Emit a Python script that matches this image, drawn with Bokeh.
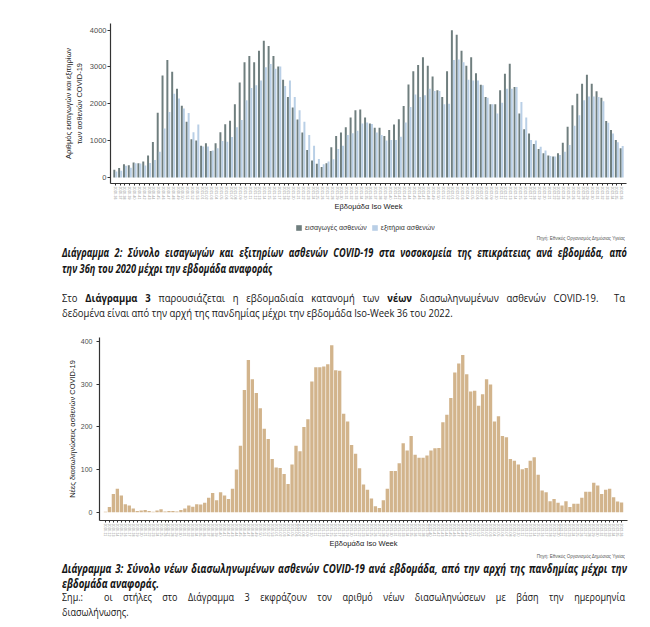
from bokeh.plotting import figure
from bokeh.models import (FactorRange, Range1d, FixedTicker, Legend, LegendItem,
                          Div, ColumnDataSource)
from bokeh.transform import dodge
from bokeh.layouts import column
from bokeh.embed import file_html
from bokeh.resources import INLINE

# ---------------- data ----------------
# Chart 1: weekly admissions / discharges, 2020-36 .. 2022-36
admissions = [207, 255, 360, 330, 405, 385, 430, 595, 960, 1755,
              2770, 3190, 2870, 2405, 1945, 1515, 1040, 1005, 860, 930,
              715, 930, 1225, 1445, 1540, 1990, 2580, 3130, 3300, 3130,
              3440, 3710, 3570, 3300, 3010, 2650, 2185, 1900, 1570, 1220,
              745, 460, 370, 280, 385, 820, 1125, 1220, 1365, 1630,
              1825, 1845, 1630, 1465, 1350, 1350, 1125, 1285, 1440, 1580,
              1940, 2525, 2880, 3055, 3265, 3030, 2740, 2365, 2185, 2885,
              4000, 3875, 3440, 3030, 3265, 2830, 2515, 2185, 1990, 1990,
              2365, 2815, 3085, 2455, 1735, 1310, 1195, 910, 775, 655,
              595, 565, 655, 945, 1375, 1960, 2275, 2545, 2785, 2545,
              2340, 2165, 1530, 1285, 1015, 790]
discharges = [160, 180, 315, 260, 385, 378, 325, 390, 475, 700,
              1330, 1780, 2275, 2140, 1870, 1750, 1230, 1440, 840, 840,
              730, 790, 990, 970, 1100, 1360, 1560, 2095, 2430, 2500,
              2630, 2990, 3080, 2950, 3010, 2480, 2630, 2185, 1825, 1510,
              1150, 860, 500, 360, 430, 495, 770, 860, 1150, 1200,
              1270, 1465, 1490, 1450, 1220, 1150, 1000, 1015, 1015, 1105,
              1490, 1915, 2250, 2185, 2230, 2410, 2350, 2350, 1990, 2000,
              3190, 3200, 3130, 2650, 2630, 2630, 2500, 2165, 1990, 1735,
              2030, 2410, 2410, 2455, 2050, 1630, 1015, 1000, 835, 730,
              585, 565, 610, 700, 880, 1400, 1690, 2095, 2200, 2200,
              2185, 2070, 1485, 1195, 955, 855]
y_ticks_1 = [0, 1000, 2000, 3000, 4000]
series_names = ["εισαγωγές ασθενών", "εξιτήρια ασθενών"]

# Chart 3: weekly new intubations, 2020-11 .. 2022-36
intubations = [1, 12, 43, 55, 39, 19, 16, 9, 3, 4,
               5, 3, 1, 4, 7, 2, 3, 3, 2, 5,
               9, 16, 13, 19, 18, 22, 34, 45, 28, 47,
               39, 31, 55, 100, 156, 287, 357, 312, 280, 244,
               196, 172, 125, 105, 104, 90, 66, 112, 156, 143,
               200, 218, 307, 340, 340, 342, 347, 392, 333, 332,
               231, 213, 158, 137, 103, 65, 53, 32, 14, 10,
               28, 55, 97, 97, 115, 162, 145, 179, 135, 128,
               128, 133, 145, 150, 151, 211, 229, 268, 328, 349,
               369, 324, 283, 285, 250, 277, 312, 300, 213, 225,
               179, 176, 125, 121, 112, 101, 104, 121, 129, 88,
               51, 47, 26, 31, 22, 16, 26, 12, 20, 20,
               34, 48, 48, 69, 63, 43, 53, 55, 35, 25,
               23]
y_ticks_3 = [0, 100, 200, 300, 400]

WEEKS_IN_YEAR = {2020: 53, 2021: 52, 2022: 52}


def iso_week_labels(year, week, n):
    out = []
    for _ in range(n):
        out.append(f"{year}-{week:02d}")
        week += 1
        if week > WEEKS_IN_YEAR[year]:
            year, week = year + 1, 1
    return out


weeks1 = iso_week_labels(2020, 36, len(admissions))
weeks3 = iso_week_labels(2020, 11, len(intubations))

DARK = "#6f7e7e"
LIGHT = "#b9cfe6"
TAN = "#d2b48c"
FONT = "Liberation Sans"
SOURCE_TEXT = "Πηγή: Εθνικός Οργανισμός Δημόσιας Υγείας"


def style_axes(p, tick_font, label_font):
    p.outline_line_color = None
    p.xgrid.visible = False
    p.ygrid.visible = False
    p.background_fill_color = "white"
    p.border_fill_color = "white"
    for ax in (p.xaxis[0], p.yaxis[0]):
        ax.axis_line_color = "#333333"
        ax.axis_line_width = 1.2
        ax.major_tick_line_color = "#333333"
        ax.major_tick_in = 0
        ax.minor_tick_line_color = None
        ax.axis_label_text_font = FONT
        ax.axis_label_text_font_style = "normal"
        ax.axis_label_text_color = "#222222"
        ax.axis_label_text_font_size = label_font
        ax.major_label_text_font = FONT
    p.yaxis.major_tick_out = 3
    p.yaxis.major_label_text_font_size = tick_font
    p.yaxis.major_label_text_color = "#4d4d4d"
    p.xaxis.major_tick_out = 2
    p.xaxis.major_label_orientation = "vertical"
    p.xaxis.major_label_text_font_size = "3.5px"
    p.xaxis.major_label_text_color = "#8a8a8a"
    p.xaxis.major_label_standoff = 1
    p.xaxis.axis_label_standoff = 0


# ---------------- chart 1 ----------------
src1 = ColumnDataSource(dict(week=weeks1, adm=admissions, dis=discharges))
p1 = figure(x_range=FactorRange(*weeks1, range_padding=0.5, range_padding_units="absolute"),
            y_range=Range1d(-165, 4180), width=650, height=214,
            output_backend="svg", toolbar_location=None, frame_align=False,
            min_border_left=110, min_border_right=24, min_border_top=23,
            min_border_bottom=30, margin=(0, 0, 0, 0))
p1.vbar(x=dodge("week", -0.21, range=p1.x_range), top="adm", width=0.41,
        source=src1, fill_color=DARK, line_color=None)
p1.vbar(x=dodge("week", 0.21, range=p1.x_range), top="dis", width=0.41,
        source=src1, fill_color=LIGHT, line_color=None)
style_axes(p1, "7.5px", "7.5px")
p1.yaxis.ticker = FixedTicker(ticks=y_ticks_1)
p1.yaxis.major_label_standoff = 1
p1.yaxis.axis_label = "Αριθμός εισαγωγών και εξιτηρίων\nτων ασθενών COVID-19"
p1.yaxis.axis_label_standoff = 3
p1.xaxis.axis_label = "Εβδομάδα Iso Week"

# legend strip for chart 1: a zero-size key glyph per series, coloured per series
key_src = ColumnDataSource(dict(x=[0.5, 0.5], h=[0, 0], name=series_names, color=[DARK, LIGHT]))
pl = figure(width=650, height=19, x_range=Range1d(0, 1), y_range=Range1d(0, 1),
            x_axis_type=None, y_axis_type=None, output_backend="svg",
            toolbar_location=None, frame_align=False,
            min_border_left=0, min_border_right=0, min_border_top=0, min_border_bottom=0,
            margin=(0, 0, 0, 0))
pl.outline_line_color = None
pl.xgrid.visible = False
pl.ygrid.visible = False
key = pl.vbar(x="x", top="h", width=0, source=key_src, fill_color="color", line_color=None)
leg1 = Legend(items=[LegendItem(label=series_names[0], renderers=[key], index=0),
                     LegendItem(label=series_names[1], renderers=[key], index=1)],
              orientation="horizontal", location=(295, 2),
              border_line_color=None, background_fill_alpha=0,
              label_text_font=FONT, label_text_font_size="7px", label_text_color="#333333",
              glyph_width=7, glyph_height=7, label_standoff=3, spacing=4,
              padding=0, margin=0, label_height=8)
pl.add_layout(leg1, "center")

# ---------------- chart 3 ----------------
src3 = ColumnDataSource(dict(week=weeks3, n=intubations))
p3 = figure(x_range=FactorRange(*weeks3, range_padding=1.0, range_padding_units="absolute"),
            y_range=Range1d(-19.4, 410), width=650, height=223,
            output_backend="svg", toolbar_location=None, frame_align=False,
            min_border_left=99, min_border_right=23, min_border_top=9,
            min_border_bottom=30, margin=(0, 0, 0, 0))
p3.vbar(x="week", top="n", width=0.84, source=src3, fill_color=TAN, line_color=None)
style_axes(p3, "7px", "7.5px")
p3.yaxis.ticker = FixedTicker(ticks=y_ticks_3)
p3.yaxis.major_label_standoff = 4
p3.yaxis.axis_label = "Νέες διασωληνώσεις ασθενών COVID-19"
p3.yaxis.axis_label_standoff = 1
p3.xaxis.axis_label = "Εβδομάδα Iso Week"


# ---------------- text blocks ----------------
def line(html, top, size, weight, style, scale, justify, lh, target=565, left=62):
    box = target / scale
    align = "text-align:justify;text-align-last:justify;" if justify else "text-align:left;"
    return (f'<div style="position:absolute;left:{left}px;top:{top}px;width:{box:.1f}px;'
            f'transform:scaleX({scale});transform-origin:0 0;white-space:nowrap;{align}'
            f"font-family:'Open Sans';font-size:{size}px;font-weight:{weight};font-style:{style};"
            f'line-height:{lh}px;color:#161616;">{html}</div>')


def block(lines, h):
    return Div(text=f'<div style="position:relative;width:650px;height:{h}px;overflow:visible;">{"".join(lines)}</div>',
               width=650, height=h, margin=(0, 0, 0, 0))


def source_div(h, lh):
    return Div(text=(f'<div style="width:625px;height:{h}px;text-align:right;overflow:hidden;'
                     f"font-family:'{FONT}';font-size:4.5px;line-height:{lh}px;color:#555555;\">"
                     f'{SOURCE_TEXT}</div>'),
               width=650, height=h, margin=(0, 0, 0, 0))


cap2 = block([
    line("Διάγραμμα 2: Σύνολο εισαγωγών και εξιτηρίων ασθενών COVID-19 στα νοσοκομεία της επικράτειας ανά εβδομάδα, από",
         0, 11.5, 700, "italic", 0.80, True, 16),
    line("την 36η του 2020 μέχρι την εβδομάδα αναφοράς", 16, 11.5, 700, "italic", 0.80, False, 16),
], 45)
para = block([
    line("Στο <b>Διάγραμμα 3</b> παρουσιάζεται η εβδομαδιαία κατανομή των <b>νέων</b> διασωληνωμένων ασθενών COVID-19.&nbsp; Τα",
         0, 11, 400, "normal", 0.86, True, 15, target=563),
    line("δεδομένα είναι από την αρχή της πανδημίας μέχρι την εβδομάδα Iso-Week 36 του 2022.",
         14.5, 11, 400, "normal", 0.86, False, 15),
], 38)
cap3 = block([
    line("Διάγραμμα 3: Σύνολο νέων διασωληνωμένων ασθενών COVID-19 ανά εβδομάδα, από την αρχή της πανδημίας μέχρι την",
         0.5, 11.5, 700, "italic", 0.84, True, 15),
    line("εβδομάδα αναφοράς.", 15.5, 11.5, 700, "italic", 0.84, False, 15),
], 30)
note = block([
    line("Σημ.:&nbsp; οι στήλες στο Διάγραμμα 3 εκφράζουν τον αριθμό νέων διασωληνώσεων με βάση την ημερομηνία",
         0, 10.5, 400, "normal", 0.86, True, 14.5, target=563),
    line("διασωλήνωσης.", 14.5, 10.5, 400, "normal", 0.86, False, 14.5),
], 37)

layout = column(p1, pl, source_div(12, 12), cap2, para, p3, source_div(9, 6), cap3, note,
                spacing=0, margin=(0, 0, 0, 0))

with open("out.html", "w") as f:
    f.write(file_html(layout, INLINE))
